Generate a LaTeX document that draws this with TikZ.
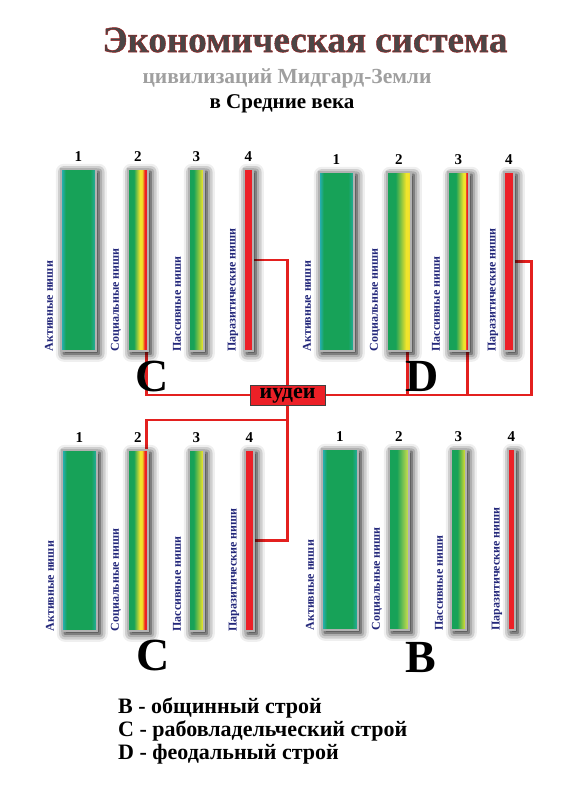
\documentclass[tikz,border=0pt]{standalone}
\usepackage{fontspec}
\setmainfont{Liberation Serif}
\usepackage{xcolor}
\definecolor{niche}{HTML}{23277A}
\definecolor{linkred}{HTML}{E3201F}
\definecolor{leafgreen}{HTML}{17A258}
\definecolor{seacyan}{HTML}{2AB2C8}
\definecolor{sunyellow}{HTML}{F0E42C}
\definecolor{paleyellow}{HTML}{D8E24C}
\definecolor{ember}{HTML}{F08A1E}
\definecolor{hotred}{HTML}{EC2027}
\definecolor{titlegray}{HTML}{4A4646}
\usepackage{tikz}
\usetikzlibrary{positioning,shadows.blur,backgrounds}

% fills of the niche bars
\pgfdeclarehorizontalshading{activeniche}{100bp}{color(0bp)=(seacyan); color(25bp)=(seacyan); color(32bp)=(leafgreen); color(67bp)=(leafgreen); color(75bp)=(seacyan!70!leafgreen); color(100bp)=(seacyan!70!leafgreen)}
\pgfdeclarehorizontalshading{socC}{100bp}{color(0bp)=(leafgreen); color(40bp)=(leafgreen); color(55bp)=(sunyellow); color(60bp)=(sunyellow); color(64bp)=(ember); color(67bp)=(hotred); color(100bp)=(hotred)}
\pgfdeclarehorizontalshading{pasC}{100bp}{color(0bp)=(leafgreen); color(41bp)=(leafgreen); color(72bp)=(sunyellow); color(100bp)=(sunyellow)}
\pgfdeclarehorizontalshading{socD}{100bp}{color(0bp)=(leafgreen); color(43bp)=(leafgreen); color(65bp)=(sunyellow); color(71bp)=(sunyellow); color(74bp)=(ember); color(100bp)=(ember)}
\pgfdeclarehorizontalshading{pasD}{100bp}{color(0bp)=(leafgreen); color(44bp)=(leafgreen); color(62bp)=(sunyellow); color(66bp)=(sunyellow); color(69bp)=(hotred); color(100bp)=(hotred)}
\pgfdeclarehorizontalshading{socB}{100bp}{color(0bp)=(leafgreen); color(45bp)=(leafgreen); color(75bp)=(paleyellow); color(100bp)=(paleyellow)}
\pgfdeclarehorizontalshading{pasB}{100bp}{color(0bp)=(leafgreen); color(47bp)=(leafgreen); color(75bp)=(sunyellow); color(100bp)=(sunyellow)}

\begin{document}
\begin{tikzpicture}[
  x=1pt, y=-1pt,
  bar/.style={draw=gray!60, line width=1.6pt, inner sep=0pt, anchor=north west,
    minimum height=181pt,
    blur shadow={shadow xshift=3pt, shadow yshift=-3pt, shadow blur radius=8pt, shadow opacity=100}},
  active/.style={bar, shading=activeniche, minimum width=35pt},
  parasite/.style={bar, fill=hotred},
  num/.style={font=\bfseries\fontsize{15}{15}\selectfont, inner sep=0pt},
  nlabel/.style={font=\bfseries\fontsize{12}{12}\selectfont, text=niche, rotate=90,
    anchor=west, inner sep=0pt},
  era/.style={font=\bfseries\fontsize{46}{46}\selectfont, inner sep=0pt},
  key/.style={font=\bfseries\fontsize{22}{22}\selectfont, inner sep=0pt, anchor=base west},
  link/.style={draw=linkred, line width=2.5pt},
  idea/.style={draw=black!75, fill=hotred, line width=1pt, minimum width=75pt,
    minimum height=20pt, inner sep=0pt, text height=11pt, text depth=4pt,
    font=\bfseries\fontsize{22}{22}\selectfont}
]
  \useasboundingbox (0,0) rectangle (579,800);

  % headings
  \node[font=\bfseries\fontsize{37}{37}\selectfont, text=titlegray] (title) at (305,40)
    {\special{pdf:literal direct 0.62 0.12 0.12 RG 0.45 w 2 Tr}Экономическая система\special{pdf:literal direct 0 Tr}};
  \node[font=\bfseries\fontsize{21.5}{21.5}\selectfont, text=gray!75] (sub) at (287,78) {цивилизаций Мидгард-Земли};
  \node[font=\bfseries\fontsize{21}{21}\selectfont] (age) at (282,104) {в Средние века};

  % top left: C
  \node[active, minimum height=182pt] (tl1) at (60,168) {};
  \node[bar, shading=socC, minimum width=20pt, minimum height=182pt] (tl2) at (127,168) {};
  \node[bar, shading=pasC, minimum width=15pt, minimum height=182pt] (tl3) at (188,168) {};
  \node[parasite, minimum width=9pt, minimum height=182pt] (tl4) at (243,168) {};
  \node[num, above=6pt of tl1] (tl1n) {1};
  \node[num, above=6pt of tl2] (tl2n) {2};
  \node[num, above=6pt of tl3] (tl3n) {3};
  \node[num, above=6pt of tl4] (tl4n) {4};
  \node[nlabel] (tl1l) at ([xshift=-11pt]tl1.south west) {Активные ниши};
  \node[nlabel] (tl2l) at ([xshift=-11pt]tl2.south west) {Социальные ниши};
  \node[nlabel] (tl3l) at ([xshift=-11pt]tl3.south west) {Пассивные ниши};
  \node[nlabel] (tl4l) at ([xshift=-10pt]tl4.south west) {Паразитические ниши};
  \node[era] (eraC1) at (152,376) {C};

  % top right: D
  \node[active, minimum height=179pt] (tr1) at (318,171) {};
  \node[bar, shading=socD, minimum width=24pt, minimum height=179pt] (tr2) at (386,171) {};
  \node[bar, shading=pasD, minimum width=21pt, minimum height=179pt] (tr3) at (447,171) {};
  \node[parasite, minimum width=10pt, minimum height=179pt] (tr4) at (503,171) {};
  \node[num, above=6pt of tr1] (tr1n) {1};
  \node[num, above=6pt of tr2] (tr2n) {2};
  \node[num, above=6pt of tr3] (tr3n) {3};
  \node[num, above=6pt of tr4] (tr4n) {4};
  \node[nlabel] (tr1l) at ([xshift=-11pt]tr1.south west) {Активные ниши};
  \node[nlabel] (tr2l) at ([xshift=-11pt]tr2.south west) {Социальные ниши};
  \node[nlabel] (tr3l) at ([xshift=-11pt]tr3.south west) {Пассивные ниши};
  \node[nlabel] (tr4l) at ([xshift=-10pt]tr4.south west) {Паразитические ниши};
  \node[era] (eraD) at (422,376) {D};

  % bottom left: C
  \node[active] (bl1) at (61,449) {};
  \node[bar, shading=socC, minimum width=20pt] (bl2) at (127,449) {};
  \node[bar, shading=pasC, minimum width=15pt] (bl3) at (188,449) {};
  \node[parasite, minimum width=9pt] (bl4) at (244,449) {};
  \node[num, above=6pt of bl1] (bl1n) {1};
  \node[num, above=6pt of bl2] (bl2n) {2};
  \node[num, above=6pt of bl3] (bl3n) {3};
  \node[num, above=6pt of bl4] (bl4n) {4};
  \node[nlabel] (bl1l) at ([xshift=-11pt]bl1.south west) {Активные ниши};
  \node[nlabel] (bl2l) at ([xshift=-11pt]bl2.south west) {Социальные ниши};
  \node[nlabel] (bl3l) at ([xshift=-11pt]bl3.south west) {Пассивные ниши};
  \node[nlabel] (bl4l) at ([xshift=-10pt]bl4.south west) {Паразитические ниши};
  \node[era] (eraC2) at (153,655) {C};

  % bottom right: B
  \node[active, minimum width=36pt] (br1) at (321,448) {};
  \node[bar, shading=socB, minimum width=20pt] (br2) at (388,448) {};
  \node[bar, shading=pasB, minimum width=15pt] (br3) at (450,448) {};
  \node[parasite, minimum width=7pt] (br4) at (507,448) {};
  \node[num, above=6pt of br1] (br1n) {1};
  \node[num, above=6pt of br2] (br2n) {2};
  \node[num, above=6pt of br3] (br3n) {3};
  \node[num, above=6pt of br4] (br4n) {4};
  \node[nlabel] (br1l) at ([xshift=-11pt]br1.south west) {Активные ниши};
  \node[nlabel] (br2l) at ([xshift=-11pt]br2.south west) {Социальные ниши};
  \node[nlabel] (br3l) at ([xshift=-11pt]br3.south west) {Пассивные ниши};
  \node[nlabel] (br4l) at ([xshift=-10pt]br4.south west) {Паразитические ниши};
  \node[era] (eraB) at (421,657) {B};

  % hub and links
  \coordinate (spine) at ([xshift=34pt]tl4.east);
  \coordinate (rim) at ([xshift=17pt]tr4.east);
  \node[idea] (hub) at (spine |- 0,395) {иудеи};
  \begin{scope}[on background layer]
    \draw[link] (tl4.east) -- (spine) |- (bl4.east);
    \draw[link] ([xshift=-2pt]tl2.south east) |- (hub.west);
    \draw[link] (hub.east) -| (rim) -- (tr4.east);
    \draw[link] ([xshift=-4pt]tr2.south east) |- (hub.east);
    \draw[link] ([xshift=-2pt]tr3.south east) |- (hub.east);
    \draw[link] ([xshift=-2pt]bl2.north east) -- ++(0,-29) -| (spine);
  \end{scope}

  % legend
  \node[key] (keyB) at (118,713) {B - общинный строй};
  \node[key] (keyC) at ([yshift=-23pt]keyB.base west) {C - рабовладельческий строй};
  \node[key] (keyD) at ([yshift=-23pt]keyC.base west) {D - феодальный строй};
\end{tikzpicture}
\end{document}
